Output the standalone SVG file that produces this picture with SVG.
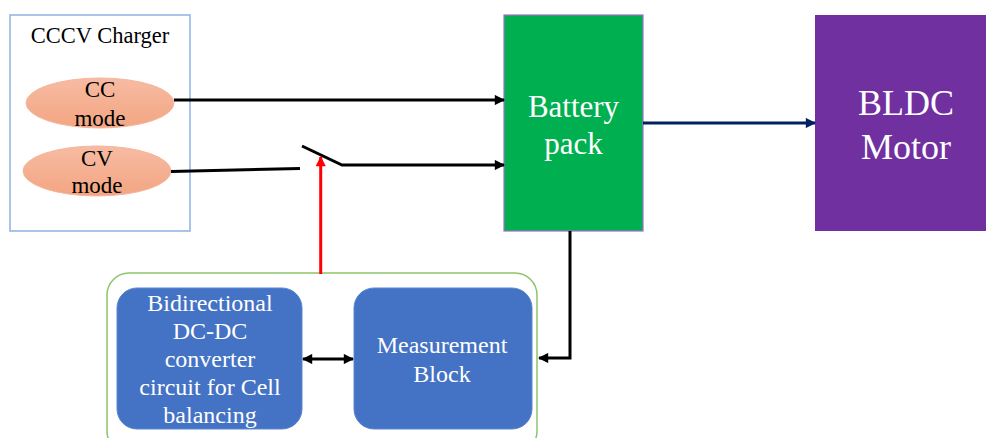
<svg xmlns="http://www.w3.org/2000/svg" width="986" height="438" viewBox="0 0 986 438" font-family="Liberation Serif, Times New Roman, DejaVu Serif, serif">
<style>
text{text-anchor:middle}
.dark{fill:#000}
.wt{fill:#fff}
.ln{fill:none;stroke:#000;stroke-width:3}
</style>
<defs>
<linearGradient id="sal" x1="0" y1="0" x2="0" y2="1">
<stop offset="0" stop-color="#f7bba3"/>
<stop offset="1" stop-color="#f3a581"/>
</linearGradient>
<marker id="ab" viewBox="0 0 10 10" refX="9" refY="5" markerWidth="4.2" markerHeight="3.4" orient="auto-start-reverse" markerUnits="strokeWidth">
<path d="M0,0 L10,5 L0,10 Z" fill="#000"/>
</marker>
<marker id="ar" viewBox="0 0 10 10" refX="9" refY="5" markerWidth="4.2" markerHeight="3.4" orient="auto" markerUnits="strokeWidth">
<path d="M0,0 L10,5 L0,10 Z" fill="#ff0000"/>
</marker>
<marker id="an" viewBox="0 0 10 10" refX="9" refY="5" markerWidth="4.2" markerHeight="3.4" orient="auto" markerUnits="strokeWidth">
<path d="M0,0 L10,5 L0,10 Z" fill="#002060"/>
</marker>
</defs>
<g id="charger">
<rect x="10" y="15" width="180" height="216" fill="#fff" stroke="#8db3e2" stroke-width="1.5"/>
<text class="dark" x="100" y="43" font-size="22.5">CCCV Charger</text>
</g>
<g id="cc-mode">
<ellipse cx="100" cy="103" rx="74" ry="25" fill="url(#sal)" stroke="#f4b69c" stroke-width="1"/>
<text class="dark" x="100" y="97" font-size="23">CC</text>
<text class="dark" x="100" y="126" font-size="23">mode</text>
</g>
<g id="cv-mode">
<ellipse cx="97" cy="171" rx="74" ry="25" fill="url(#sal)" stroke="#f4b69c" stroke-width="1"/>
<text class="dark" x="97" y="166" font-size="23">CV</text>
<text class="dark" x="97" y="193" font-size="23">mode</text>
</g>
<g id="battery">
<rect x="504" y="15" width="139" height="216" fill="#00b050" stroke="#9e6fc9" stroke-width="1.2"/>
<text class="wt" x="573.5" y="117" font-size="31">Battery</text>
<text class="wt" x="573.5" y="154" font-size="31">pack</text>
</g>
<g id="motor">
<rect x="815" y="15" width="175" height="216" fill="#7030a0"/>
<text class="wt" x="906" y="115" font-size="36">BLDC</text>
<text class="wt" x="906" y="159" font-size="36">Motor</text>
</g>
<g id="bms">
<rect x="107" y="273" width="430" height="180" rx="22" fill="#fff" stroke="#8cc46a" stroke-width="1.5"/>
</g>
<g id="dcdc">
<rect x="117" y="288" width="185" height="141" rx="20" fill="#4472c4" stroke="#5b86cf" stroke-width="1"/>
<text class="wt" x="210" y="311" font-size="24">Bidirectional</text>
<text class="wt" x="210" y="339" font-size="24">DC-DC</text>
<text class="wt" x="210" y="367" font-size="24">converter</text>
<text class="wt" x="210" y="395" font-size="24">circuit for Cell</text>
<text class="wt" x="210" y="423" font-size="24">balancing</text>
</g>
<g id="measurement">
<rect x="354" y="288" width="178" height="141" rx="20" fill="#4472c4" stroke="#5b86cf" stroke-width="1"/>
<text class="wt" x="442" y="353" font-size="24">Measurement</text>
<text class="wt" x="442" y="382" font-size="24">Block</text>
</g>
<g id="connectors">
<line class="ln" x1="174" y1="100" x2="504" y2="100" marker-end="url(#ab)"/>
<line class="ln" x1="171" y1="171.5" x2="300" y2="168.5"/>
<polyline class="ln" points="302,146 342,165 504,165" marker-end="url(#ab)"/>
<line x1="320.7" y1="274" x2="320.7" y2="157" fill="none" stroke="#ff0000" stroke-width="3" marker-end="url(#ar)"/>
<line x1="643" y1="123" x2="815" y2="123" fill="none" stroke="#002060" stroke-width="3" marker-end="url(#an)"/>
<polyline class="ln" points="570,231 570,358 539,358" marker-end="url(#ab)"/>
<line class="ln" x1="303" y1="359" x2="353" y2="359" marker-start="url(#ab)" marker-end="url(#ab)"/>
</g>
</svg>
